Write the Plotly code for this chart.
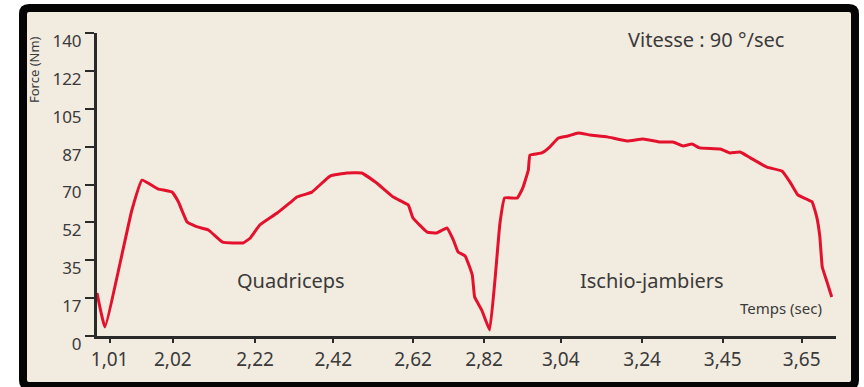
import plotly.graph_objects as go

# Torque curve over one flexion/extension cycle at 90 deg/s
# time position along the graduated axis (1 unit = one graduation step)
temps = [0.00, 0.10, 0.44, 0.57, 0.77, 0.95, 1.03, 1.14, 1.27, 1.41, 1.59, 1.85,
         1.94, 2.06, 2.28, 2.44, 2.53, 2.72, 2.95, 3.16, 3.35, 3.54, 3.75, 3.94,
         4.00, 4.18, 4.30, 4.43, 4.51, 4.57, 4.66, 4.75, 4.78, 4.87, 4.97, 5.04,
         5.10, 5.16, 5.32, 5.39, 5.46, 5.48, 5.63, 5.73, 5.84, 5.96, 6.09, 6.24,
         6.46, 6.71, 6.91, 7.13, 7.29, 7.42, 7.53, 7.63, 7.89, 8.01, 8.14, 8.27,
         8.48, 8.67, 8.77, 8.87, 9.05, 9.11, 9.15, 9.18, 9.24, 9.30]
force = [19.9, 4.2, 58.0, 72.0, 68.0, 66.5, 62.0, 52.7, 50.4, 49.0, 43.4, 43.0,
         45.3, 51.3, 56.8, 61.5, 64.2, 66.5, 73.9, 75.3, 75.3, 70.7, 64.2, 60.5,
         54.5, 48.0, 47.6, 49.9, 44.4, 38.8, 37.0, 28.2, 18.0, 12.0, 2.8, 27.0,
         52.0, 63.8, 63.8, 68.4, 76.7, 83.6, 84.6, 87.3, 91.5, 92.4, 93.8, 92.9,
         92.0, 90.1, 91.0, 89.6, 89.6, 87.8, 88.7, 86.9, 86.4, 84.6, 85.0, 82.3,
         78.0, 76.2, 71.2, 65.2, 62.0, 55.0, 45.7, 31.9, 25.0, 18.0]

x_tick_pos = [0.16, 0.96, 2.0, 2.99, 4.0, 4.9, 5.87, 6.9, 7.92, 8.92]
x_tick_text = ["1,01", "2,02", "2,22", "2,42", "2,62", "2,82", "3,04", "3,24", "3,45", "3,65"]
y_tick_pos = [0, 17.5, 35, 52.5, 70, 87.5, 105, 122.5, 140]
y_tick_text = ["0", "17", "35", "52", "70", "87", "105", "122", "140"]

W, H = 864, 387
L, R, T, B = 97, 28, 33, 51
pw, ph = W - L - R, H - T - B


def px(x):
    return (x - L) / pw


def py(y):
    return (H - B - y) / ph


FONT = "Noto Sans"
BEIGE = "#F2EBE0"
INK = "#3a3a3a"

fig = go.Figure()
fig.add_trace(go.Scatter(
    x=temps, y=force, mode="lines",
    line=dict(color="#E3112C", width=3, shape="spline", smoothing=0.3),
    hoverinfo="skip", showlegend=False,
))

# rounded black frame around the beige panel
x0, x1, y0, y1, r = px(23), px(855), py(8), py(386), 6
rx, ry = r / pw, r / ph
frame = (f"M {x0+rx},{y0} L {x1-rx},{y0} Q {x1},{y0} {x1},{y0-ry} "
         f"L {x1},{y1+ry} Q {x1},{y1} {x1-rx},{y1} L {x0+rx},{y1} "
         f"Q {x0},{y1} {x0},{y1+ry} L {x0},{y0-ry} Q {x0},{y0} {x0+rx},{y0} Z")
fig.add_shape(type="path", path=frame, xref="paper", yref="paper",
              fillcolor=BEIGE, line=dict(color="#050505", width=8), layer="below")


def note(text, x, y, size, angle=0):
    return dict(text=text, x=px(x), y=py(y), xref="paper", yref="paper",
                xanchor="center", yanchor="middle", showarrow=False,
                textangle=angle, font=dict(size=size, color=INK))


fig.update_layout(
    width=W, height=H,
    margin=dict(l=L, r=R, t=T, b=B, pad=0),
    paper_bgcolor="white", plot_bgcolor="rgba(0,0,0,0)",
    font=dict(family=FONT, color=INK, size=17),
    xaxis=dict(range=[0, 9.354], tickvals=x_tick_pos, ticktext=x_tick_text,
               showgrid=False, zeroline=False, showline=True, linecolor="#2a2a2a",
               linewidth=3, ticks="outside", ticklen=4, tickwidth=2, tickcolor="#2a2a2a",
               tickfont=dict(size=19, color=INK)),
    yaxis=dict(range=[0, 140], tickvals=y_tick_pos, ticktext=y_tick_text,
               showgrid=False, zeroline=False, showline=True, linecolor="#2a2a2a",
               linewidth=3, ticks="outside", ticklen=9, tickwidth=2, tickcolor="#2a2a2a",
               ticklabelshift=8, ticklabelstandoff=0,
               tickfont=dict(size=17, color=INK)),
    annotations=[
        note("Vitesse : 90 °/sec", 706, 39, 20),
        note("Quadriceps", 291, 280, 20),
        note("Ischio-jambiers", 652, 280, 20),
        note("Temps (sec)", 781, 308, 15),
        note("Force (Nm)", 34, 70, 13, angle=-90),
    ],
)

fig.write_html("out.html")
